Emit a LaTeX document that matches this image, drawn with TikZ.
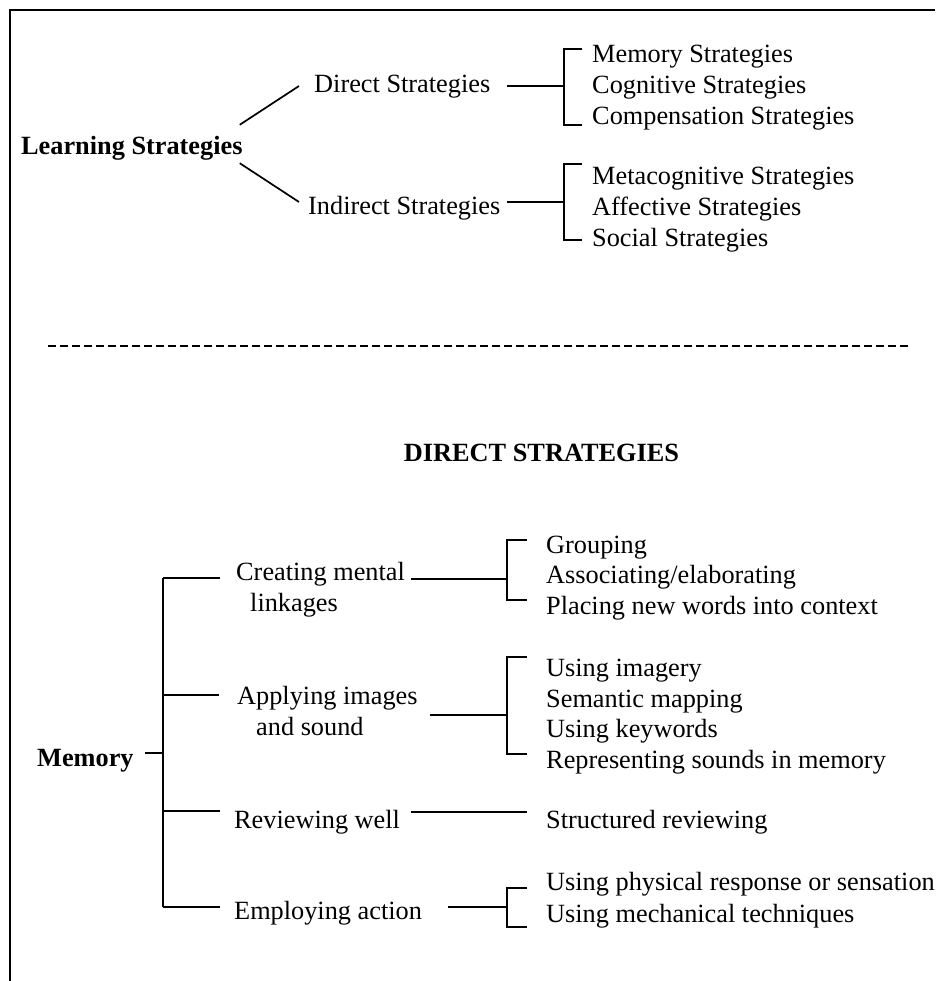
\documentclass[tikz,border=0pt]{standalone}
\usepackage{fontspec}
\setmainfont{Liberation Serif}
\usepackage{tikz}
\usetikzlibrary{positioning}

\tikzset{
  txt/.style={anchor=west, inner sep=0pt, text height=20pt, text depth=0pt,
              font=\fontsize{26.3pt}{31pt}\selectfont},
  twoline/.style={anchor=west, inner sep=0pt, align=left,
              font=\fontsize{26.3pt}{31pt}\selectfont},
  hd/.style={txt, font=\fontsize{26.3pt}{31pt}\selectfont\bfseries},
  link/.style={line width=1.7pt},
  frame/.style={line width=2.4pt}
}

\begin{document}
\begin{tikzpicture}[x=1pt, y=-1pt]
  \useasboundingbox (0,0) rectangle (935,981);
  % Page frame
  \draw[frame] (10,981) -- (10,10) -- (935,10);

  % Learning strategies tree
  \node[hd] (learn) at (21,145) {Learning Strategies};
  \node[txt] (direct) at (314,83) {Direct Strategies};
  \node[txt] (indirect) at (308,205) {Indirect Strategies};
  \draw[link] ([shift={(-3pt,10pt)}]learn.north east) -- ([shift={(-15pt,-3pt)}]direct.west);
  \draw[link] ([shift={(-3pt,-8pt)}]learn.south east) -- ([shift={(-9pt,3pt)}]indirect.west);

  \foreach \n/\y/\t in {memS/53/Memory Strategies, cogS/84/Cognitive Strategies,
      compS/115/Compensation Strategies, metaS/175/Metacognitive Strategies,
      affS/206/Affective Strategies, socS/237/Social Strategies} {
    \node[txt] (\n) at (592,\y) {\t};
  }
  \coordinate (dirT) at (582,49);  \coordinate (dirJ) at (564,86);  \coordinate (dirB) at (582,125);
  \coordinate (indT) at (582,164); \coordinate (indJ) at (564,202); \coordinate (indB) at (582,240);
  \draw[link] ([shift={(17pt,-3pt)}]direct.east) -- (dirJ);
  \draw[link] (dirT) -| (dirJ) |- (dirB);
  \draw[link] ([shift={(7pt,3pt)}]indirect.east) -- (indJ);
  \draw[link] (indT) -| (indJ) |- (indB);

  % Separator
  \draw[line width=1.8pt, dash pattern=on 8pt off 4pt] (48,346) -- (909,346);

  \node[hd, anchor=center] (title) at (541.5,451) {DIRECT STRATEGIES};

  % Memory tree
  \node[hd] (memory) at (37,756) {Memory};
  \node[twoline] (create) at (236,590) {Creating mental\\\hspace*{14pt}linkages};
  \node[twoline] (apply) at (237,711) {Applying images\\\hspace*{19pt}and sound};
  \node[txt] (review) at (234,818) {Reviewing well};
  \node[txt] (employ) at (234,909) {Employing action};

  \coordinate (memJ) at (163,753);
  \coordinate (trunkT) at (163,578);
  \coordinate (trunkB) at (163,907);
  \draw[link] (trunkT) -- (trunkB);
  \draw[link] ([shift={(11pt,3pt)}]memory.east) -- (memJ);
  \draw[link] (trunkT) -- ([shift={(-16pt,12pt)}]create.west);
  \draw[link] ([yshift=16pt]apply.west -| trunkT) -- ([shift={(-18pt,16pt)}]apply.west);
  \draw[link] ([yshift=7pt]review.west -| trunkT) -- ([shift={(-14pt,7pt)}]review.west);
  \draw[link] (trunkB) -- ([shift={(-14pt,2pt)}]employ.west);

  \foreach \n/\y/\t in {group/543/Grouping, assoc/573/{Associating/elaborating},
      place/604/Placing new words into context, imag/666/Using imagery,
      sem/697/Semantic mapping, keyw/727/Using keywords,
      repr/758/Representing sounds in memory, struct/818/Structured reviewing,
      phys/880/Using physical response or sensation,
      mech/912/Using mechanical techniques} {
    \node[txt] (\n) at (546,\y) {\t};
  }

  \coordinate (creT) at (527,540); \coordinate (creJ) at (507,579); \coordinate (creB) at (527,600);
  \coordinate (appT) at (527,657); \coordinate (appJ) at (507,715); \coordinate (appB) at (527,754);
  \coordinate (empT) at (527,888); \coordinate (empJ) at (507,907); \coordinate (empB) at (527,927);
  \draw[link] ([shift={(6pt,11pt)}]create.east) -- (creJ);
  \draw[link] (creT) -| (creJ) |- (creB);
  \draw[link] ([shift={(12pt,-4pt)}]apply.east) -- (appJ);
  \draw[link] (appT) -| (appJ) |- (appB);
  \draw[link] ([shift={(11pt,6pt)}]review.east) -- ([shift={(-19pt,6pt)}]struct.west);
  \draw[link] ([shift={(26pt,2pt)}]employ.east) -- (empJ);
  \draw[link] (empT) -| (empJ) |- (empB);
\end{tikzpicture}
\end{document}
